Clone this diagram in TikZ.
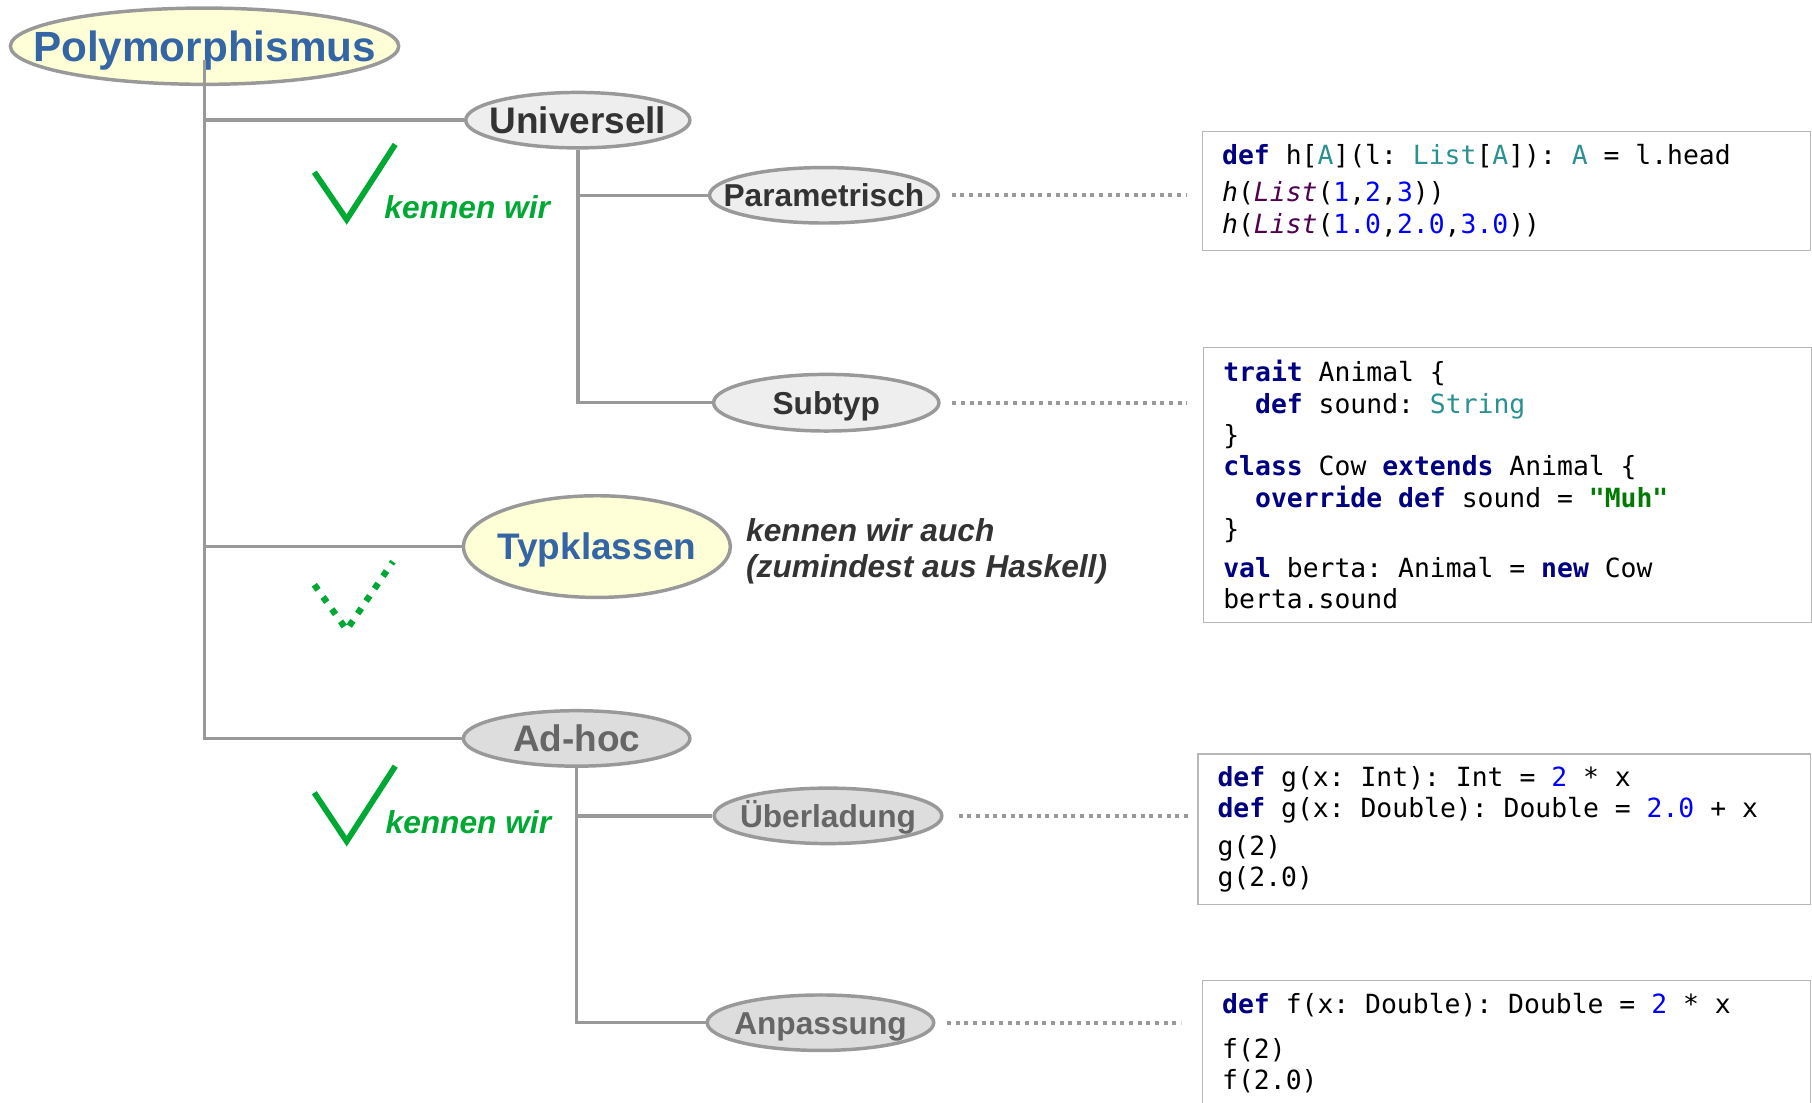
\documentclass[tikz,border=0pt]{standalone}
\usepackage{fontspec}
\setmainfont{Liberation Sans}
\setmonofont{DejaVu Sans Mono}
\usetikzlibrary{shapes.geometric}

\definecolor{linegray}{HTML}{999999}
\definecolor{boxgray}{HTML}{B7B7B7}
\definecolor{paleyellow}{HTML}{FFFFD7}
\definecolor{titleblue}{HTML}{3465A4}
\definecolor{lightfill}{HTML}{EEEEEE}
\definecolor{midfill}{HTML}{DDDDDD}
\definecolor{darktext}{HTML}{333333}
\definecolor{midtext}{HTML}{666666}
\definecolor{tickgreen}{HTML}{00A933}
\definecolor{kwnavy}{HTML}{000080}
\definecolor{typeteal}{HTML}{2A9090}
\definecolor{litblue}{HTML}{0000FF}
\definecolor{callpurple}{HTML}{500050}
\definecolor{strgreen}{HTML}{007A00}

\DeclareRobustCommand{\codefont}{\ttfamily\fontsize{6.5}{7.7}\selectfont}
\DeclareRobustCommand{\monospaces}{\spaceskip=0.602em\xspaceskip=0.602em\relax}
\newcommand{\kw}[1]{\textcolor{kwnavy}{\textbf{#1}}}
\newcommand{\tn}[1]{\textcolor{typeteal}{#1}}
\newcommand{\cnum}[1]{\textcolor{litblue}{#1}}
\newcommand{\call}[1]{\textit{\textcolor{callpurple}{#1}}}

\begin{document}
\begin{tikzpicture}[
		oval/.style={ellipse, draw=linegray, line width=0.03cm, inner sep=0pt, text depth=0pt,
			execute at begin node={\hbox to 0pt\bgroup\hss}, execute at end node={\hss\egroup}},
		rootoval/.style={oval, fill=paleyellow, text=titleblue, text height=0.26cm,
			font=\bfseries\fontsize{10.4}{12}\selectfont},
		kindoval/.style={oval, text height=0.23cm, font=\bfseries\fontsize{9.1}{11}\selectfont},
		suboval/.style={oval, text height=0.2cm, font=\bfseries\fontsize{7.8}{9}\selectfont},
		treeline/.style={draw=linegray, line width=0.03cm},
		dotline/.style={draw=linegray, line width=0.034cm, dash pattern=on 0.035cm off 0.04cm},
		codebox/.style={draw=boxgray, line width=0.012cm, anchor=north west, inner xsep=0.17cm,
			inner ysep=0pt, text width=4.92cm, align=left, font=\codefont,
			execute at begin node=\monospaces},
		checkmark/.style={draw=tickgreen, line width=0.05cm},
		note/.style={inner sep=0pt, font=\bfseries\itshape\fontsize{7.8}{8.8}\selectfont}
	]
	\useasboundingbox (0,0) rectangle (15.68,-9.54);

	\node[rootoval, minimum width=3.36cm, minimum height=0.66cm] (poly) at (1.77,-0.40) {Polymorphismus};
	\node[kindoval, fill=lightfill, text=darktext, minimum width=1.94cm, minimum height=0.48cm] (univ) at (5.00,-1.04) {Universell};
	\node[suboval, fill=lightfill, text=darktext, minimum width=1.98cm, minimum height=0.48cm] (param) at (7.13,-1.69) {Parametrisch};
	\node[suboval, fill=lightfill, text=darktext, minimum width=1.95cm, minimum height=0.49cm] (subtyp) at (7.15,-3.485) {Subtyp};
	\node[kindoval, fill=paleyellow, text=titleblue, minimum width=2.31cm, minimum height=0.88cm] (typ) at (5.165,-4.73) {Typklassen};
	\node[kindoval, fill=midfill, text=midtext, minimum width=1.96cm, minimum height=0.48cm] (adhoc) at (4.99,-6.39) {Ad-hoc};
	\node[suboval, fill=midfill, text=midtext, minimum width=1.97cm, minimum height=0.48cm] (ueber) at (7.165,-7.06) {Überladung};
	\node[suboval, fill=midfill, text=midtext, minimum width=1.96cm, minimum height=0.48cm] (anpass) at (7.10,-8.85) {Anpassung};

	\draw[treeline] ([yshift=-0.12cm]poly.center) |- (univ.west);
	\draw[treeline] ([yshift=-0.12cm]poly.center) |- (typ.west);
	\draw[treeline] ([yshift=-0.12cm]poly.center) |- (adhoc.west);
	\draw[treeline] (univ.south) |- (param.west);
	\draw[treeline] (univ.south) |- (subtyp.west);
	\draw[treeline] (adhoc.south) |- (ueber.west);
	\draw[treeline] (adhoc.south) |- (anpass.west);

	\node[codebox, minimum height=1.03cm] (codeparam) at (10.40,-1.13) {%
		\kw{def} h[\tn{A}](l: \tn{List}[\tn{A}]): \tn{A} = l.head\\[0.05cm]
		\textit{h}(\call{List}(\cnum{1},\cnum{2},\cnum{3}))\\
		\textit{h}(\call{List}(\cnum{1.0},\cnum{2.0},\cnum{3.0}))};
	\node[codebox, minimum height=2.38cm] (codesub) at (10.41,-3.00) {%
		\kw{trait} Animal \{\\
		~~\kw{def} sound: \tn{String}\\
		\}\\
		\kw{class} Cow \kw{extends} Animal \{\\
		~~\kw{override def} sound = \textcolor{strgreen}{\textbf{"Muh"}}\\
		\}\\[0.07cm]
		\kw{val} berta: Animal = \kw{new} Cow\\
		berta.sound};
	\node[codebox, text width=4.96cm, minimum height=1.30cm] (codeover) at (10.36,-6.52) {%
		\kw{def} g(x: Int): Int = \cnum{2} * x\\
		\kw{def} g(x: Double): Double = \cnum{2.0} + x\\[0.06cm]
		g(2)\\
		g(2.0)};
	\node[codebox, minimum height=1.08cm] (codecoerce) at (10.40,-8.48) {%
		\kw{def} f(x: Double): Double = \cnum{2} * x\\[0.12cm]
		f(2)\\
		f(2.0)};

	\draw[dotline, shorten <=0.10cm, shorten >=0.13cm] (param.east) -- (param.east -| codeparam.west);
	\draw[dotline, shorten <=0.10cm, shorten >=0.14cm] (subtyp.east) -- (subtyp.east -| codesub.west);
	\draw[dotline, shorten <=0.13cm, shorten >=0.05cm] (ueber.east) -- (ueber.east -| codeover.west);
	\draw[dotline, shorten <=0.10cm, shorten >=0.18cm] (anpass.east) -- (anpass.east -| codecoerce.west);

	\draw[checkmark] (2.72,-1.49) -- (3.00,-1.90) -- (3.42,-1.25);
	\draw[checkmark, line width=0.055cm, dash pattern=on 0.055cm off 0.075cm] (2.72,-5.06) -- (3.00,-5.45) -- (3.40,-4.86);
	\draw[checkmark] (2.72,-6.86) -- (3.00,-7.28) -- (3.42,-6.63);

	\node[note, text=tickgreen, anchor=base west] (know1) at (3.32,-1.89) {kennen wir};
	\node[note, text=tickgreen, anchor=base west] (know2) at (3.33,-7.21) {kennen wir};
	\node[note, text=darktext, anchor=west, align=left] (know3) at (6.45,-4.77) {kennen wir auch\\(zumindest aus Haskell)};
\end{tikzpicture}
\end{document}
